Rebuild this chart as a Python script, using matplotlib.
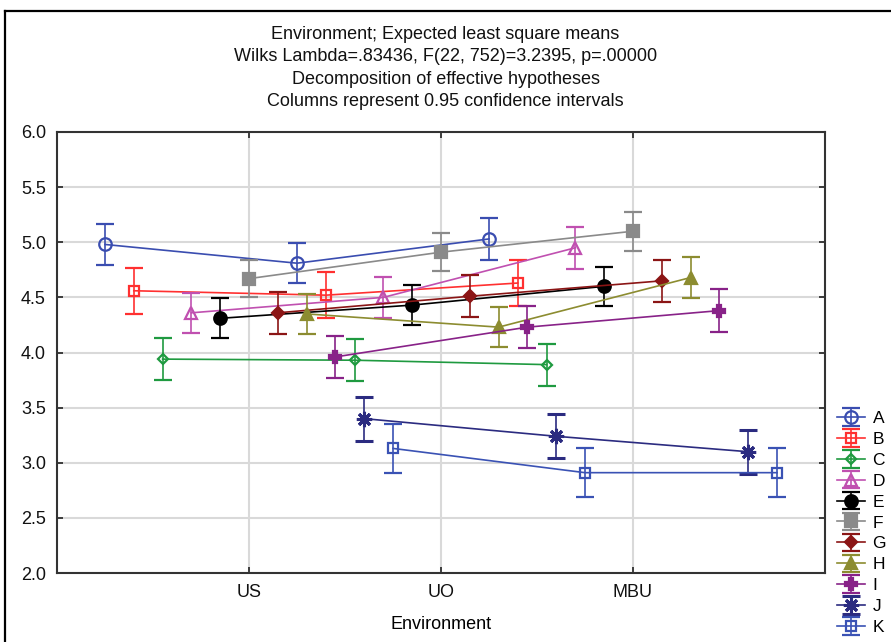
import matplotlib
matplotlib.use("Agg")
from matplotlib import pyplot as plt
from matplotlib.lines import Line2D
import numpy as np

plt.rcParams['font.family'] = ['Liberation Sans', 'DejaVu Sans']

environments = ["US", "UO", "MBU"]
groups = ["A", "B", "C", "D", "E", "F", "G", "H", "I", "J", "K"]

# least square means per group (US, UO, MBU)
means = {
    "A": [4.98, 4.81, 5.03],
    "B": [4.56, 4.52, 4.63],
    "C": [3.94, 3.93, 3.89],
    "D": [4.36, 4.50, 4.95],
    "E": [4.31, 4.43, 4.60],
    "F": [4.67, 4.91, 5.10],
    "G": [4.36, 4.51, 4.65],
    "H": [4.35, 4.23, 4.68],
    "I": [3.96, 4.23, 4.38],
    "J": [3.40, 3.24, 3.10],
    "K": [3.13, 2.91, 2.91],
}
# half width of the 0.95 confidence interval
ci = {
    "A": [0.185, 0.18, 0.19],
    "B": [0.21, 0.21, 0.21],
    "C": [0.19, 0.19, 0.19],
    "D": [0.18, 0.185, 0.19],
    "E": [0.18, 0.18, 0.18],
    "F": [0.17, 0.175, 0.175],
    "G": [0.19, 0.19, 0.19],
    "H": [0.18, 0.18, 0.185],
    "I": [0.19, 0.19, 0.195],
    "J": [0.20, 0.20, 0.20],
    "K": [0.22, 0.22, 0.22],
}

colors = ["#3a4db0", "#ff3030", "#1f9a40", "#c050b0", "#000000", "#8a8a8a",
          "#8b1515", "#8c8c30", "#882288", "#2b2b80", "#3a52b4"]
markers = ["o", "s", "D", "^", "o", "s", "D", "^", "P", (8, 2, 0), "s"]
filled = [False, False, False, False, True, True, True, True, True, True, False]
msizes = [9, 7.5, 5.5, 8, 9, 8.5, 6, 8, 9, 11, 7.5]
mews = [1.6, 1.6, 1.6, 1.6, 1.6, 1.6, 1.6, 1.6, 1.6, 2.2, 1.6]

fs = 13

fig = plt.figure(figsize=(8.91, 6.42), dpi=100)
ax = fig.add_axes([57 / 891, 69 / 642, 768 / 891, 441 / 642])

cat_x = np.arange(1, len(environments) + 1)
for i, g in enumerate(groups):
    x = cat_x + (i - 5) * 0.15
    c = colors[i]
    ax.errorbar(x, means[g], yerr=ci[g], color=c, ecolor=c, lw=1.2,
                elinewidth=1.2, capsize=6.5, capthick=1.2,
                marker=markers[i], ms=msizes[i],
                mfc=c if filled[i] else "none", mec=c, mew=mews[i],
                label=g, zorder=3 + i)

ax.set_xlim(0, 4)
ax.set_ylim(2.0, 6.0)
ax.set_xticks(cat_x)
ax.set_xticklabels(environments, fontsize=fs)
ax.set_yticks(np.arange(2.0, 6.01, 0.5))
ax.set_yticklabels([f"{v:.1f}" for v in np.arange(2.0, 6.01, 0.5)], fontsize=fs)
ax.tick_params(direction="in", length=4, width=1.2, top=True, right=True,
               pad=8, colors="#222222", labelcolor="#111111")
ax.grid(True, color="#d9d9d9", lw=1.5, zorder=0)
ax.set_axisbelow(True)
for s in ax.spines.values():
    s.set_linewidth(1.5)
    s.set_color("#333333")
ax.set_xlabel("Environment", fontsize=fs, labelpad=11)

title = ("Environment; Expected least square means\n"
         "Wilks Lambda=.83436, F(22, 752)=3.2395, p=.00000\n"
         "Decomposition of effective hypotheses\n"
         "Columns represent 0.95 confidence intervals")
fig.text(0.5, 1 - 26 / 642, title, ha="center", va="top", fontsize=fs,
         linespacing=1.42, color="#111111")

# outer frame
fig.add_artist(Line2D([5 / 891, 5 / 891], [0, 1 - 11 / 642], color="black", lw=1.6))
fig.add_artist(Line2D([5 / 891, 1], [1 - 11 / 642, 1 - 11 / 642], color="black", lw=1.6))

fig.legend(loc="upper left", bbox_to_anchor=(837 / 891, 1 - 411 / 642),
           frameon=False, fontsize=12.5, handlelength=1.6, handletextpad=0.45,
           labelspacing=0.33, borderpad=0, borderaxespad=0)

fig.savefig("out.png", dpi=100)
